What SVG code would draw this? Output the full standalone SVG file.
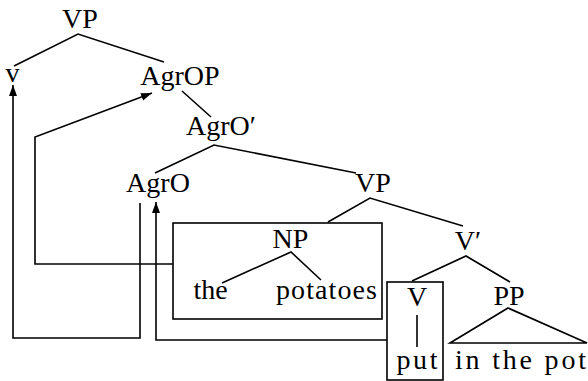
<svg xmlns="http://www.w3.org/2000/svg" width="588" height="381" viewBox="0 0 588 381">
  <style>
    text { font-family: "Liberation Serif", "Times New Roman", serif; font-size: 28px; fill: #000; }
    .mid { text-anchor: middle; }
    .edge { stroke: #000; stroke-width: 1.6; fill: none; }
    .move { stroke: #000; stroke-width: 1.6; fill: none; }
    .box { stroke: #000; stroke-width: 1.6; fill: none; }
  </style>
  <defs>
    <marker id="arrow" markerUnits="userSpaceOnUse" markerWidth="12" markerHeight="10" refX="11" refY="4" orient="auto">
      <path d="M0,0 L11,4 L0,8 Z" fill="#000"/>
    </marker>
  </defs>

  <rect width="588" height="381" fill="#fff"/>

  <!-- tree branches -->
  <g id="branches">
    <path class="edge" d="M14,66 L78,34 L164,62"/>
    <path class="edge" d="M182,91 L211,117"/>
    <path class="edge" d="M155,173 L214,145 L356,173"/>
    <path class="edge" d="M328,222 L370,198 L463,226"/>
    <path class="edge" d="M222,283 L291,252 L321,280"/>
    <path class="edge" d="M412,281 L466,256 L510,282"/>
    <path class="edge" d="M417,315 V347"/>
    <path class="edge" d="M450,343 L508,308 L587,343 Z"/>
  </g>

  <!-- movement arrows -->
  <g id="connectors">
    <path class="move" d="M140,203 V338 H13 V85" marker-end="url(#arrow)"/>
    <path class="move" d="M173,264 H35 V137 L152,93" marker-end="url(#arrow)"/>
    <path class="move" d="M387,340 H156 V202" marker-end="url(#arrow)"/>
  </g>

  <g id="node-vp-top"><text class="mid" x="80" y="28">VP</text></g>
  <g id="node-v"><text class="mid" x="12.5" y="82">v</text></g>
  <g id="node-agrop"><text class="mid" x="180" y="85">AgrOP</text></g>
  <g id="node-agrobar"><text class="mid" x="221" y="135">AgrO′</text></g>
  <g id="node-agro"><text class="mid" x="158" y="192">AgrO</text></g>
  <g id="node-vp-low"><text class="mid" x="373" y="192">VP</text></g>

  <g id="node-np">
    <rect class="box" x="173" y="223" width="209" height="96"/>
    <text class="mid" x="290.5" y="248">NP</text>
    <text class="mid" x="210.5" y="299">the</text>
    <text x="276" y="299" textLength="101" lengthAdjust="spacing">potatoes</text>
  </g>

  <g id="node-vbar"><text class="mid" x="468" y="250">V′</text></g>

  <g id="node-v-head">
    <rect class="box" x="387" y="282" width="56" height="98"/>
    <text class="mid" x="417" y="306">V</text>
    <text x="396.5" y="369" textLength="41" lengthAdjust="spacing">put</text>
  </g>

  <g id="node-pp">
    <text class="mid" x="509" y="305">PP</text>
    <text x="455" y="369" textLength="131" lengthAdjust="spacing">in the pot</text>
  </g>
</svg>
